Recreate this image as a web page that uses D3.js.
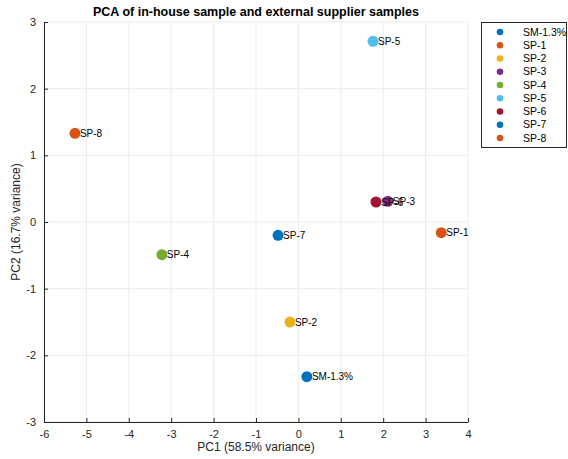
<!DOCTYPE html>
<html>
<head>
<meta charset="utf-8">
<script src="https://cdn.jsdelivr.net/npm/d3@7"></script>
<style>
  html, body { margin: 0; padding: 0; background: #fff; }
  svg { display: block; font-family: "Liberation Sans", Arial, Helvetica, sans-serif; }
</style>
</head>
<body>
<svg id="chart" width="568" height="459"></svg>
<script>
// PCA scores for each sample
const samples = ["SM-1.3%", "SP-1", "SP-2", "SP-3", "SP-4", "SP-5", "SP-6", "SP-7", "SP-8"];
const pc1 = [0.20, 3.37, -0.20, 2.11, -3.22, 1.76, 1.83, -0.48, -5.27];
const pc2 = [-2.32, -0.16, -1.50, 0.31, -0.49, 2.71, 0.30, -0.20, 1.33];
const colors = ["#0072BD", "#D95319", "#EDB120", "#7E2F8E", "#77AC30", "#4DBEEE", "#A2142F", "#0072BD", "#D95319"];
const xTicks = [-6, -5, -4, -3, -2, -1, 0, 1, 2, 3, 4];
const yTicks = [-3, -2, -1, 0, 1, 2, 3];

const svg = d3.select("#chart");
const m = { left: 44, right: 468, top: 22, bottom: 422 };

const x = d3.scaleLinear().domain([-6, 4]).range([m.left, m.right]);
const y = d3.scaleLinear().domain([-3, 3]).range([m.bottom, m.top]);

// grid
const grid = svg.append("g");
grid.selectAll(".gx").data(xTicks).join("line")
  .attr("x1", d => x(d)).attr("x2", d => x(d))
  .attr("y1", m.top).attr("y2", m.bottom)
  .attr("stroke", "#ebebeb").attr("stroke-width", 1);
grid.selectAll(".gy").data(yTicks).join("line")
  .attr("y1", d => y(d)).attr("y2", d => y(d))
  .attr("x1", m.left).attr("x2", m.right)
  .attr("stroke", "#ebebeb").attr("stroke-width", 1);

// axes (ticks pointing inward, plain hyphen for negatives)
const fmt = d => String(d);
const xAxis = d3.axisBottom(x).tickValues(xTicks).tickFormat(fmt)
  .tickSizeInner(-4).tickSizeOuter(0).tickPadding(8);
const yAxis = d3.axisLeft(y).tickValues(yTicks).tickFormat(fmt)
  .tickSizeInner(-4).tickSizeOuter(0).tickPadding(8);

const gx = svg.append("g").attr("transform", `translate(0,${m.bottom})`).call(xAxis);
const gy = svg.append("g").attr("transform", `translate(${m.left},0)`).call(yAxis);
[gx, gy].forEach(g => {
  g.select(".domain").attr("stroke", "#262626");
  g.selectAll(".tick line").attr("stroke", "#262626");
  g.selectAll(".tick text").attr("fill", "#262626").attr("font-size", 11)
    .attr("font-family", "'Liberation Sans', Arial, sans-serif");
});
gx.selectAll(".tick text").attr("dy", "0.71em");

// points
const data = samples.map((s, i) => ({ name: s, x: pc1[i], y: pc2[i], c: colors[i] }));
svg.append("g").selectAll("circle").data(data).join("circle")
  .attr("cx", d => x(d.x)).attr("cy", d => y(d.y))
  .attr("r", 5.5).attr("fill", d => d.c);

svg.append("g").selectAll("text").data(data).join("text")
  .attr("x", d => x(d.x) + 5).attr("y", d => y(d.y))
  .attr("dy", "0.35em")
  .attr("font-size", 10).attr("fill", "#000")
  .text(d => d.name);

// title and labels
svg.append("text").attr("x", (m.left + m.right) / 2).attr("y", 16)
  .attr("text-anchor", "middle").attr("font-weight", "bold").attr("font-size", 12.5)
  .attr("fill", "#000").text("PCA of in-house sample and external supplier samples");
svg.append("text").attr("x", (m.left + m.right) / 2).attr("y", 451)
  .attr("text-anchor", "middle").attr("font-size", 12).attr("fill", "#262626")
  .text("PC1 (58.5% variance)");
svg.append("text")
  .attr("transform", `translate(20,${(m.top + m.bottom) / 2}) rotate(-90)`)
  .attr("text-anchor", "middle").attr("font-size", 12).attr("fill", "#262626")
  .text("PC2 (16.7% variance)");

// legend
const lg = svg.append("g");
lg.append("rect").attr("x", 481.5).attr("y", 22.5).attr("width", 85).attr("height", 125)
  .attr("fill", "#fff").attr("stroke", "#262626").attr("stroke-width", 1);
const rowH = 13.25;
const items = lg.selectAll("g.item").data(data).join("g")
  .attr("transform", (d, i) => `translate(0,${32 + i * rowH})`);
items.append("circle").attr("cx", 500).attr("cy", 0).attr("r", 3.3).attr("fill", d => d.c);
items.append("text").attr("x", 523).attr("y", 0).attr("dy", "0.35em")
  .attr("font-size", 10.5).attr("fill", "#000").text(d => d.name);
</script>
</body>
</html>
